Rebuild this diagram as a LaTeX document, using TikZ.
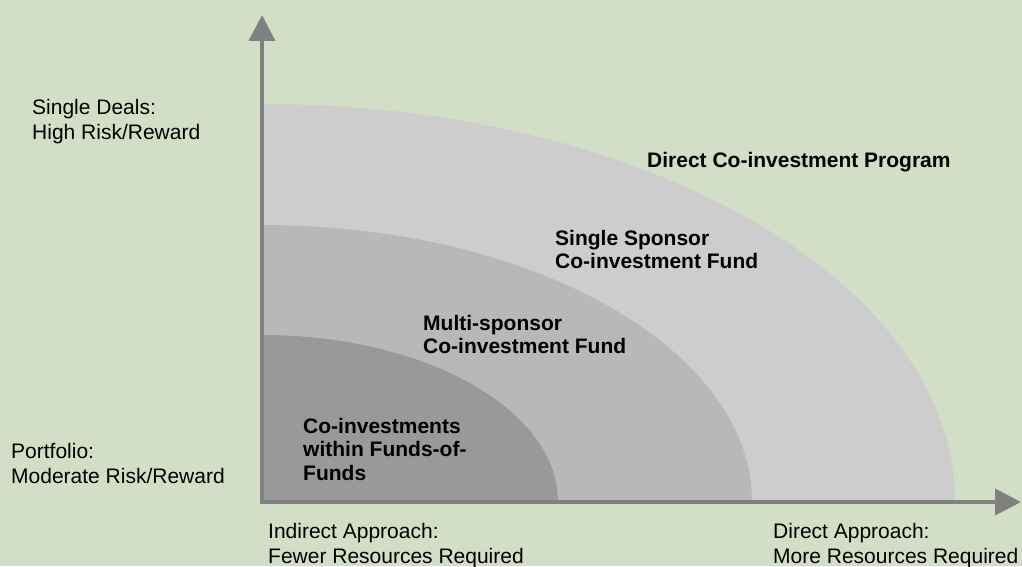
\documentclass[tikz,border=0pt]{standalone}
\usepackage{fontspec}
\setmainfont{Liberation Sans}
\usetikzlibrary{arrows.meta}
\definecolor{bgc}{HTML}{D2DFC6}
\definecolor{lightg}{HTML}{CDCDCD}
\definecolor{midg}{HTML}{B8B8B8}
\definecolor{darkg}{HTML}{999999}
\definecolor{axisg}{HTML}{808080}
\tikzset{
  axisline/.style={draw=axisg, line width=4pt, -{Triangle[length=26pt,width=26pt]}},
  reglabel/.style={anchor=base west, inner sep=0pt, font=\fontsize{21}{25}\selectfont},
  boldlabel/.style={anchor=base west, inner sep=0pt, font=\fontsize{21}{23.5}\selectfont\bfseries},
}
\newcommand{\ttab}[1]{\begin{tabular}[t]{@{}l@{}}#1\end{tabular}}
\begin{document}
\begin{tikzpicture}[x=1pt,y=1pt]
\fill[bgc] (0,0) rectangle (1022,566);
\useasboundingbox (0,0) rectangle (1022,566);
\coordinate (O) at (262,64);
\coordinate (Ostart) at (260,64);
\coordinate (ytip) at (262,551);
\coordinate (xtip) at (1021,64);
% quarter ellipses
\fill[lightg] (O) -- ++(693,0) arc[start angle=0,end angle=90,x radius=693,y radius=398] -- cycle;
\fill[midg] (O) -- ++(490,0) arc[start angle=0,end angle=90,x radius=490,y radius=277] -- cycle;
\fill[darkg] (O) -- ++(296,0) arc[start angle=0,end angle=90,x radius=296,y radius=167] -- cycle;
% axes
\draw[axisline] (O) -- (ytip);
\draw[axisline] (Ostart) -- (xtip);
% labels
\node[reglabel] (single) at (32,451) {\ttab{Single Deals:\\High Risk/Reward}};
\node[reglabel] (portfolio) at (11,108) {\ttab{Portfolio:\\Moderate Risk/Reward}};
\node[reglabel] (indirect) at (268,28) {\ttab{Indirect Approach:\\Fewer Resources Required}};
\node[reglabel] (direct) at (773,28) {\ttab{Direct Approach:\\More Resources Required}};
\node[boldlabel] (dcp) at (647,398) {\ttab{Direct Co-investment Program}};
\node[boldlabel] (ssf) at (555,321) {\ttab{Single Sponsor\\Co-investment Fund}};
\node[boldlabel] (msf) at (423,236) {\ttab{Multi-sponsor\\Co-investment Fund}};
\node[boldlabel] (cfof) at (303,133) {\ttab{Co-investments\\within Funds-of-\\Funds}};
\end{tikzpicture}
\end{document}
